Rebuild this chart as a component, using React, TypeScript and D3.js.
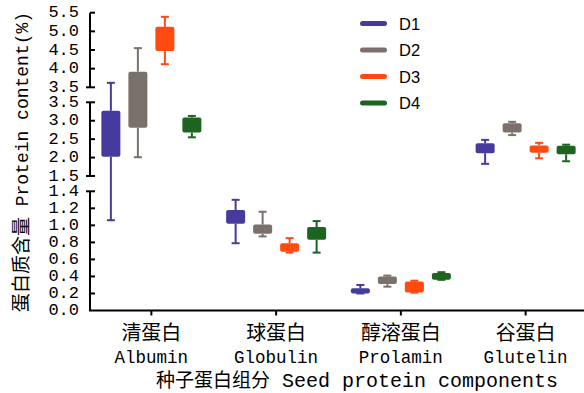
import React from "react";
import * as d3 from "d3";

const categories = ["清蛋白", "球蛋白", "醇溶蛋白", "谷蛋白"];
const categoriesEn = ["Albumin", "Globulin", "Prolamin", "Glutelin"];
const seriesNames = ["D1", "D2", "D3", "D4"];
const seriesColors = ["#463B9C", "#7A716D", "#FF4A12", "#1E6421"];

// per category: [min, q1, q3, max]
const d1 = [[1.06, 2.02, 3.27, 3.62], [0.79, 1.02, 1.18, 1.30], [0.20, 0.20, 0.26, 0.30], [1.83, 2.12, 2.39, 2.48]];
const d2 = [[2.01, 2.81, 3.92, 4.55], [0.87, 0.90, 1.01, 1.16], [0.28, 0.31, 0.40, 0.41], [2.61, 2.68, 2.93, 2.97]];
const d3v = [[4.12, 4.47, 5.12, 5.39], [0.68, 0.69, 0.79, 0.85], [0.21, 0.21, 0.34, 0.35], [1.98, 2.13, 2.33, 2.40]];
const d4 = [[2.55, 2.68, 3.09, 3.13], [0.68, 0.83, 0.98, 1.05], [0.36, 0.36, 0.44, 0.45], [1.90, 2.09, 2.32, 2.35]];
const seriesData = [d1, d2, d3v, d4];

const ticksLow = [0, 0.2, 0.4, 0.6, 0.8, 1.0, 1.2, 1.4];
const ticksMid = [1.5, 2.0, 2.5, 3.0, 3.5];
const ticksHigh = [3.5, 4.0, 4.5, 5.0, 5.5];

const yLabelCn = "蛋白质含量";
const yLabelEn = "Protein content(%)";
const xTitleCn = "种子蛋白组分";
const xTitleEn = "Seed protein components";

export default function App() {
  const axisX = 90;
  const baseY = 310.5;
  const segLow = d3.scaleLinear().domain([0, 1.4]).range([baseY, 191.3]);
  const segMid = d3.scaleLinear().domain([1.5, 3.5]).range([176, 102.3]);
  const segHigh = d3.scaleLinear().domain([3.5, 5.5]).range([87.3, 12.7]);
  const y = (v: number) => (v <= 1.45 ? segLow(v) : v <= 3.5 ? segMid(v) : segHigh(v));

  const x = d3.scaleBand<string>().domain(categories).range([89, 588]).padding(0);
  const xs = d3.scaleBand<string>().domain(seriesNames).range([-54, 54]).padding(0);
  const boxW = 19;
  const capW = 8;

  const mono = "'Liberation Mono', 'Noto Sans CJK SC', monospace";
  const cjk = "'Noto Sans CJK SC', sans-serif";

  const segments = [
    { scale: segLow, ticks: ticksLow, topCapBoth: true, bottomCap: false },
    { scale: segMid, ticks: ticksMid, topCapBoth: true, bottomCap: true },
    { scale: segHigh, ticks: ticksHigh, topCapBoth: false, bottomCap: true },
  ];

  return (
    <svg width={584} height={393} style={{ position: "absolute", left: 0, top: 0, background: "#fff" }}>
      {/* y axis segments */}
      {segments.map((s, si) => {
        const [lo, hi] = s.scale.domain();
        const yTop = s.scale(hi);
        const yBot = s.scale(lo);
        return (
          <g key={si}>
            <line x1={axisX} x2={axisX} y1={yTop} y2={yBot} stroke="#000" strokeWidth={2} />
            {s.ticks.map((t, ti) => {
              const ty = s.scale(t);
              const isTop = ti === s.ticks.length - 1;
              const isBot = ti === 0;
              let x1 = axisX;
              if ((isTop && s.topCapBoth) || (isBot && s.bottomCap)) x1 = axisX - 4;
              const showTick = !(isBot && si === 0);
              return (
                <g key={ti}>
                  {showTick && <line x1={x1} x2={axisX + 5} y1={ty} y2={ty} stroke="#000" strokeWidth={2} />}
                  <text x={79} y={ty} textAnchor="end" dominantBaseline="central" fontFamily={mono} fontSize={17} fill="#000">
                    {t.toFixed(1)}
                  </text>
                </g>
              );
            })}
          </g>
        );
      })}
      {/* x axis */}
      <line x1={89} x2={588} y1={baseY} y2={baseY} stroke="#000" strokeWidth={2} />
      {categories.map((c, i) => {
        const cx = (x(c) as number) + x.bandwidth() / 2;
        return (
          <g key={c}>
            <line x1={cx} x2={cx} y1={baseY} y2={baseY + 5} stroke="#000" strokeWidth={2} />
            <text x={cx} y={340} textAnchor="middle" fontFamily={cjk} fontSize={20} fill="#000">{c}</text>
            <text x={cx} y={363} textAnchor="middle" fontFamily={mono} fontSize={17.5} fill="#000">{categoriesEn[i]}</text>
          </g>
        );
      })}
      {/* boxes */}
      {seriesNames.map((s, si) => (
        <g key={s}>
          {categories.map((c, ci) => {
            const [mn, q1, q3, mx] = seriesData[si][ci];
            const cx = (x(c) as number) + x.bandwidth() / 2 + (xs(s) as number) + xs.bandwidth() / 2;
            const col = seriesColors[si];
            return (
              <g key={c}>
                <line x1={cx} x2={cx} y1={y(mx)} y2={y(q3)} stroke={col} strokeWidth={2} />
                <line x1={cx} x2={cx} y1={y(q1)} y2={y(mn)} stroke={col} strokeWidth={2} />
                <line x1={cx - capW / 2} x2={cx + capW / 2} y1={y(mx)} y2={y(mx)} stroke={col} strokeWidth={2} />
                <line x1={cx - capW / 2} x2={cx + capW / 2} y1={y(mn)} y2={y(mn)} stroke={col} strokeWidth={2} />
                <rect x={cx - boxW / 2} y={y(q3)} width={boxW} height={Math.max(y(q1) - y(q3), 2)} rx={2} fill={col} />
              </g>
            );
          })}
        </g>
      ))}
      {/* legend */}
      {seriesNames.map((s, i) => {
        const ly = 23.5 + i * 26.5;
        return (
          <g key={s}>
            <rect x={360} y={ly - 2.5} width={27} height={5} rx={2.5} fill={seriesColors[i]} />
            <text x={399} y={ly} dominantBaseline="central" fontFamily="'Liberation Sans', Arial, sans-serif" fontSize={16.5} fill="#000">{s}</text>
          </g>
        );
      })}
      {/* y label */}
      <text transform="translate(28,162) rotate(-90)" textAnchor="middle" fill="#000">
        <tspan fontFamily={cjk} fontSize={19}>{yLabelCn}</tspan>
        <tspan fontFamily={mono} fontSize={18}>{" " + yLabelEn}</tspan>
      </text>
      {/* x title */}
      <text x={357} y={387} textAnchor="middle" fill="#000">
        <tspan fontFamily={cjk} fontSize={19}>{xTitleCn}</tspan>
        <tspan fontFamily={mono} fontSize={20}>{" " + xTitleEn}</tspan>
      </text>
    </svg>
  );
}
